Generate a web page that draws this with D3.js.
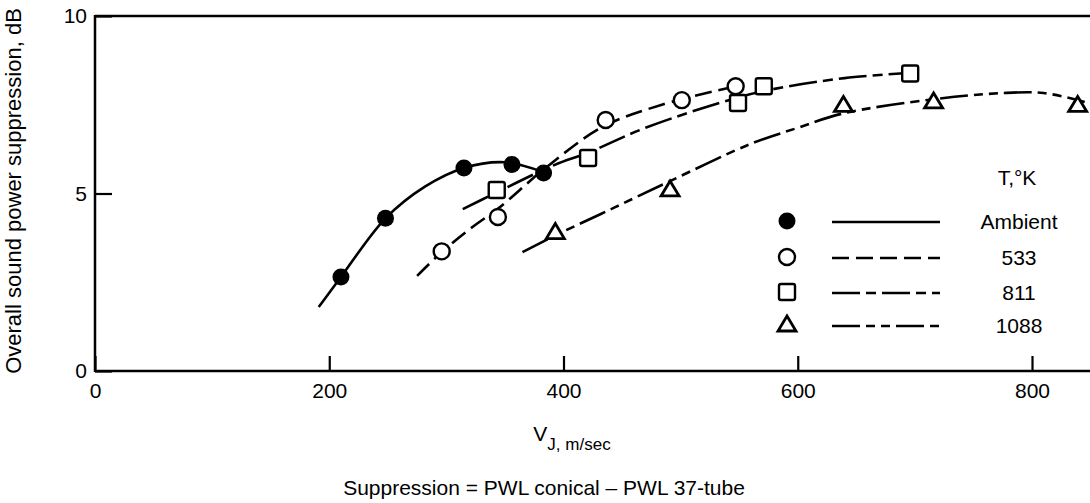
<!DOCTYPE html>
<html>
<head>
<meta charset="utf-8">
<script src="https://cdn.jsdelivr.net/npm/d3@7"></script>
<style>
html,body{margin:0;padding:0;background:#fff;}
svg{display:block;font-family:"Liberation Sans",Arial,sans-serif;}
</style>
</head>
<body>
<svg id="chart" width="1090" height="503"></svg>
<script>
// ---- data ----
const seriesNames = ["Ambient", "533", "811", "1088"];
const xTicks = [0, 200, 400, 600, 800];
const yTicks = [0, 5, 10];

// measured points [V_J m/s, suppression dB]
const ambientPts = [[210, 2.65], [248, 4.3], [315, 5.72], [356, 5.82], [383, 5.58]];
const t533Pts = [[296, 3.37], [344, 4.34], [436, 7.07], [501, 7.63], [547, 8.02]];
const t811Pts = [[343, 5.1], [421, 6.0], [549, 7.55], [571, 8.02], [696, 8.38]];
const t1088Pts = [[393, 3.9], [491, 5.1], [639, 7.48], [716, 7.58], [839, 7.48]];

// faired curves
const ambientCurve = [[191, 1.8], [210, 2.65], [248, 4.3], [282, 5.2], [315, 5.72], [350, 5.88], [383, 5.6]];
const t533Curve = [[275, 2.68], [296, 3.35], [320, 4.0], [345, 4.6], [384, 5.7], [433, 6.87], [484, 7.5], [547, 8.02]];
const t811Curve = [[314, 4.56], [338, 4.95], [392, 5.8], [421, 6.15], [470, 6.85], [541, 7.63], [576, 7.92], [640, 8.25], [697, 8.4]];
const t1088Curve = [[365, 3.35], [395, 3.85], [440, 4.55], [491, 5.35], [560, 6.4], [600, 6.85], [638, 7.25], [715, 7.65], [775, 7.83], [810, 7.83], [845, 7.58]];

// ---- drawing ----
const svg = d3.select("#chart");
const x = d3.scaleLinear().domain([0, 800]).range([95, 1032]);
const y = d3.scaleLinear().domain([0, 10]).range([371, 16]);
const FONT = 21;

// frame
svg.append("line").attr("x1", 95).attr("x2", 1090).attr("y1", y(10)).attr("y2", y(10))
  .attr("stroke", "#000").attr("stroke-width", 2.5);
svg.append("line").attr("x1", 95).attr("x2", 1090).attr("y1", y(0)).attr("y2", y(0))
  .attr("stroke", "#000").attr("stroke-width", 2.5);
svg.append("line").attr("x1", x(0)).attr("x2", x(0)).attr("y1", y(10) - 1).attr("y2", y(0) + 1)
  .attr("stroke", "#000").attr("stroke-width", 2.5);

// axes
const xAxis = svg.append("g").attr("transform", `translate(0,${y(0)})`)
  .call(d3.axisBottom(x).tickValues(xTicks).tickSize(-15).tickPadding(12).tickFormat(d3.format("d")));
xAxis.select(".domain").remove();
xAxis.selectAll(".tick line").attr("stroke-width", 2.2);
xAxis.selectAll(".tick text").attr("font-size", FONT).attr("font-family", "Liberation Sans, Arial, sans-serif").attr("fill", "#000");

const yAxis = svg.append("g").attr("transform", `translate(${x(0)},0)`)
  .call(d3.axisLeft(y).tickValues(yTicks).tickSize(-17).tickPadding(8).tickFormat(d3.format("d")));
yAxis.select(".domain").remove();
yAxis.selectAll(".tick line").attr("stroke-width", 2.2);
yAxis.selectAll(".tick text").attr("font-size", FONT).attr("font-family", "Liberation Sans, Arial, sans-serif").attr("fill", "#000");

// axis titles
svg.append("text").attr("transform", `translate(21,${191}) rotate(-90)`)
  .attr("text-anchor", "middle").attr("font-size", 22).text("Overall sound power suppression, dB");

const xt = svg.append("text").attr("x", 572).attr("y", 441).attr("text-anchor", "middle").attr("font-size", FONT);
xt.append("tspan").text("V");
xt.append("tspan").attr("font-size", 17).attr("dy", 9).text("J, m/sec");

svg.append("text").attr("x", 544).attr("y", 495).attr("text-anchor", "middle").attr("font-size", FONT)
  .text("Suppression = PWL conical \u2013 PWL 37-tube");

// curves
const line = d3.line().x(d => x(d[0])).y(d => y(d[1])).curve(d3.curveCatmullRom.alpha(0.5));
const styles = [
  { curve: ambientCurve, pts: ambientPts, dash: null, sym: "filled" },
  { curve: t533Curve, pts: t533Pts, dash: "17,7", sym: "circle" },
  { curve: t811Curve, pts: t811Pts, dash: "28,6,10,6", sym: "square" },
  { curve: t1088Curve, pts: t1088Pts, dash: "28,6,9,6,9,6", sym: "triangle" }
];

styles.forEach(s => {
  svg.append("path").datum(s.curve).attr("d", line).attr("fill", "none")
    .attr("stroke", "#000").attr("stroke-width", 2.6)
    .attr("stroke-dasharray", s.dash);
});

function drawSym(g, type, cx, cy) {
  if (type === "filled") {
    g.append("circle").attr("cx", cx).attr("cy", cy).attr("r", 8.5).attr("fill", "#000");
  } else if (type === "circle") {
    g.append("circle").attr("cx", cx).attr("cy", cy).attr("r", 8).attr("fill", "#fff")
      .attr("stroke", "#000").attr("stroke-width", 2.4);
  } else if (type === "square") {
    g.append("rect").attr("x", cx - 8).attr("y", cy - 8).attr("width", 16).attr("height", 16)
      .attr("rx", 2).attr("fill", "#fff").attr("stroke", "#000").attr("stroke-width", 2.4);
  } else {
    g.append("path").attr("d", `M${cx},${cy - 9}L${cx + 9},${cy + 6}L${cx - 9},${cy + 6}Z`)
      .attr("fill", "#fff").attr("stroke", "#000").attr("stroke-width", 2.8).attr("stroke-linejoin", "miter");
  }
}

styles.forEach(s => {
  const g = svg.append("g");
  s.pts.forEach(p => drawSym(g, s.sym, x(p[0]), y(p[1])));
});

// legend
svg.append("text").attr("x", 1017).attr("y", 185).attr("text-anchor", "middle").attr("font-size", FONT).text("T,\u00b0K");
const rowY = [221, 257, 292, 325];
styles.forEach((s, i) => {
  const g = svg.append("g");
  drawSym(g, s.sym, 787, rowY[i]);
  g.append("line").attr("x1", 832).attr("x2", 940).attr("y1", rowY[i] + 1).attr("y2", rowY[i] + 1)
    .attr("stroke", "#000").attr("stroke-width", 2.6).attr("stroke-dasharray", s.dash);
  g.append("text").attr("x", 1019).attr("y", rowY[i] + 8).attr("text-anchor", "middle")
    .attr("font-size", FONT).text(seriesNames[i]);
});
</script>
</body>
</html>
